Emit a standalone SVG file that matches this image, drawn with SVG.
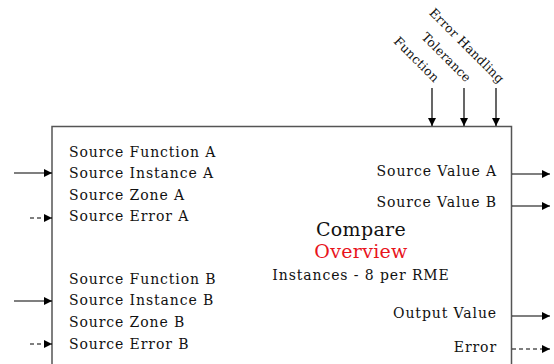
<svg xmlns="http://www.w3.org/2000/svg" width="554" height="364" viewBox="0 0 554 364">
<style>
text{font-family:"DejaVu Serif","Liberation Serif",serif;fill:#111}
.s{font-size:14px;letter-spacing:0.9px}
.t{font-size:12.5px;letter-spacing:0.2px}
.big{font-size:19px;letter-spacing:0.3px}
.c line{stroke:#000;stroke-width:1.2}
.d{stroke-dasharray:4 3}
</style>
<defs>
<marker id="ah" viewBox="0 0 10 10" refX="10" refY="5" markerWidth="8" markerHeight="8" markerUnits="userSpaceOnUse" orient="auto">
<path d="M0,0 L10,5 L0,10 z" fill="#000"/>
</marker>
</defs>
<g id="compare">
<path d="M52,370 V126.5 H511.5 V370" fill="#fff" stroke="#555" stroke-width="1.5"/>
<text class="s" x="69" y="157">Source Function A</text>
<text class="s" x="69" y="178">Source Instance A</text>
<text class="s" x="69" y="200">Source Zone A</text>
<text class="s" x="69" y="221">Source Error A</text>
<text class="s" x="69" y="284">Source Function B</text>
<text class="s" x="69" y="305">Source Instance B</text>
<text class="s" x="69" y="327">Source Zone B</text>
<text class="s" x="69" y="349">Source Error B</text>
<text class="s" x="497" y="176" text-anchor="end">Source Value A</text>
<text class="s" x="497" y="207" text-anchor="end">Source Value B</text>
<text class="s" x="497" y="318" text-anchor="end">Output Value</text>
<text class="s" x="497" y="352" text-anchor="end">Error</text>
<text class="big" x="361" y="236" text-anchor="middle">Compare</text>
<text class="big" x="361" y="258" text-anchor="middle" style="fill:#e8141c">Overview</text>
<text class="s" x="361" y="280" text-anchor="middle">Instances - 8 per RME</text>
</g>
<g id="labels">
<text class="t" transform="translate(434,83) rotate(45)" text-anchor="end">Function</text>
<text class="t" transform="translate(466,83) rotate(45)" text-anchor="end">Tolerance</text>
<text class="t" transform="translate(499,84) rotate(45)" text-anchor="end">Error Handling</text>
</g>
<g id="connectors" class="c">
<line x1="14" y1="173" x2="52" y2="173" marker-end="url(#ah)"/>
<line class="d" x1="30" y1="218" x2="52" y2="218" marker-end="url(#ah)"/>
<line x1="14" y1="301" x2="52" y2="301" marker-end="url(#ah)"/>
<line class="d" x1="30" y1="344" x2="52" y2="344" marker-end="url(#ah)"/>
<line x1="512" y1="174" x2="550" y2="174" marker-end="url(#ah)"/>
<line x1="512" y1="206" x2="550" y2="206" marker-end="url(#ah)"/>
<line x1="512" y1="316" x2="550" y2="316" marker-end="url(#ah)"/>
<line class="d" x1="512" y1="349" x2="550" y2="349" marker-end="url(#ah)"/>
<line x1="432" y1="88" x2="432" y2="126" marker-end="url(#ah)"/>
<line x1="464" y1="88" x2="464" y2="126" marker-end="url(#ah)"/>
<line x1="496" y1="88" x2="496" y2="126" marker-end="url(#ah)"/>
</g>
</svg>
